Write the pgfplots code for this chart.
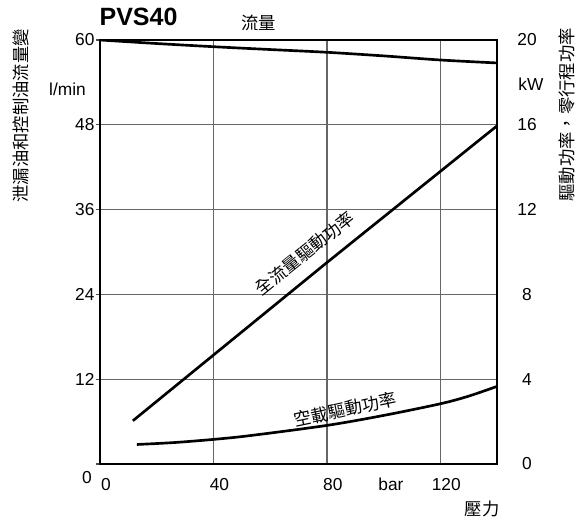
\documentclass[border=0pt]{standalone}
\usepackage{fontspec}
\setmainfont{Liberation Sans}
\newfontfamily\cjk{Noto Sans CJK TC}
\usepackage{pgfplots}
\pgfplotsset{compat=1.18}

\begin{document}
\begin{tikzpicture}
\pgfplotsset{
  common/.style={
    scale only axis, width=297.75pt, height=318pt,
    xmin=0, xmax=140,
    /pgf/number format/assume math mode=true,
    tick label style={font=\fontsize{13}{15}\selectfont},
  }
}
% flow (left axis, l/min)
\begin{axis}[common, ymin=0, ymax=60,
  xtick={0,40,80,120}, ytick={0,12,...,60}, yticklabels={,12,24,36,48,60},
  ytick pos=left, xtick pos=bottom,
  grid=major, grid style={line width=1pt, black!60},
  axis line style={line width=1.3pt},
  tick align=outside, major tick length=3pt,
  xtick style={draw=none}, ytick style={line width=1pt, black!70},
  xticklabel style={xshift=4.5pt, yshift=-4pt},
  yticklabel style={inner sep=1pt},
]
\addplot[line width=2pt, smooth] coordinates {
  (0,60) (20,59.5) (40,59.05) (60,58.65) (80,58.26) (100,57.75) (120,57.17) (140,56.75)};
\end{axis}
% drive power (right axis, kW)
\begin{axis}[common, ymin=0, ymax=20,
  axis x line=none, axis y line*=right, axis line style={draw=none},
  ytick={0,4,...,20}, ytick style={draw=none},
  yticklabel style={anchor=center, xshift=22.5pt},
]
\addplot[line width=2pt] coordinates {(11.6,2.04) (80,9.5) (140,15.95)};
\addplot[line width=2pt, smooth] coordinates {
  (13,0.92) (26,1.01) (40,1.16) (53,1.34) (80,1.82) (100,2.29) (120,2.84) (130,3.2) (140,3.66)};
\node[rotate=38.9, font=\cjk\fontsize{13}{15}\selectfont] at (axis cs:72.3,9.94) {全流量驅動功率};
\node[rotate=11.8, font=\cjk\fontsize{13}{15}\selectfont] at (axis cs:86.5,2.57) {空載驅動功率};
\end{axis}
% titles and units
\node[font=\bfseries\fontsize{18.75}{20}\selectfont] at (28.9pt,335.25pt) {PVS40};
\node[font=\cjk\fontsize{13}{15}\selectfont] at (119.25pt,330.75pt) {流量};
\node[font=\fontsize{13}{15}\selectfont] at (-24.4pt,281.25pt) {l/min};
\node[font=\fontsize{13}{15}\selectfont] at (323.25pt,284.6pt) {kW};
\node[rotate=90, font=\cjk\fontsize{13}{15}\selectfont] at (-59.25pt,261pt) {泄漏油和控制油流量變};
\node[rotate=90, font=\cjk\fontsize{13}{15}\selectfont] at (350.25pt,261.75pt) {驅動功率，零行程功率};
\node[font=\fontsize{13}{15}\selectfont] at (-9.75pt,-10.5pt) {0};
\node[font=\fontsize{13}{15}\selectfont] at (218.25pt,-15pt) {bar};
\node[font=\cjk\fontsize{13}{15}\selectfont] at (286.5pt,-33.75pt) {壓力};
\pgfresetboundingbox
\path[use as bounding box] (-75pt,-47.25pt) rectangle (362.25pt,348pt);
\end{tikzpicture}
\end{document}
